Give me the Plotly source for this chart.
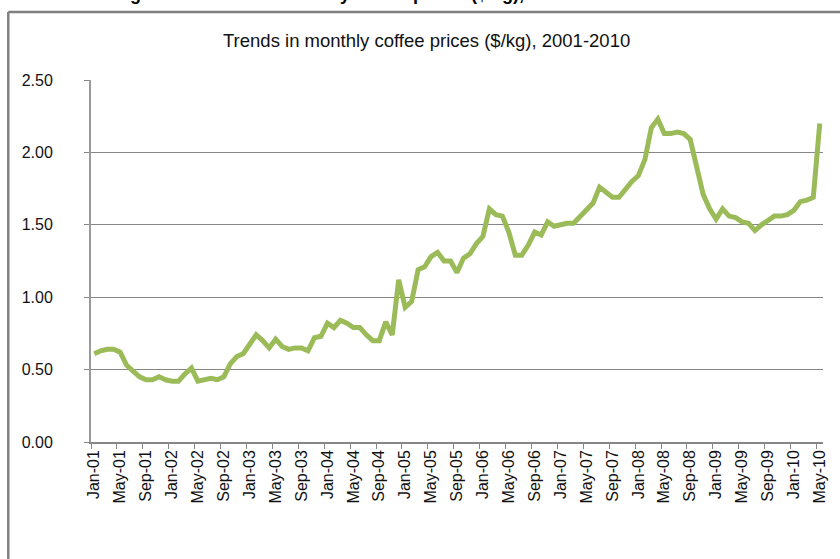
import plotly.graph_objects as go

# ---- data ----
month_names = ["Jan", "Feb", "Mar", "Apr", "May", "Jun",
               "Jul", "Aug", "Sep", "Oct", "Nov", "Dec"]
years = ["01", "02", "03", "04", "05", "06", "07", "08", "09", "10"]
months = [f"{m}-{y}" for y in years for m in month_names][:113]  # Jan-01 .. May-10

prices = [
    0.61, 0.63, 0.64, 0.64, 0.62, 0.53, 0.49, 0.45, 0.43, 0.43, 0.45, 0.43,   # 2001
    0.42, 0.42, 0.47, 0.51, 0.42, 0.43, 0.44, 0.43, 0.45, 0.54, 0.59, 0.61,   # 2002
    0.68, 0.74, 0.70, 0.65, 0.71, 0.66, 0.64, 0.65, 0.65, 0.63, 0.72, 0.73,   # 2003
    0.82, 0.79, 0.84, 0.82, 0.79, 0.79, 0.74, 0.70, 0.70, 0.83, 0.74, 1.12,   # 2004
    0.93, 0.97, 1.19, 1.21, 1.28, 1.31, 1.25, 1.25, 1.17, 1.27, 1.30, 1.37,   # 2005
    1.42, 1.61, 1.57, 1.56, 1.45, 1.29, 1.29, 1.36, 1.45, 1.43, 1.52, 1.49,   # 2006
    1.50, 1.51, 1.51, 1.56, 1.60, 1.65, 1.76, 1.72, 1.69, 1.69, 1.75, 1.80,   # 2007
    1.84, 1.95, 2.17, 2.23, 2.13, 2.13, 2.14, 2.13, 2.09, 1.90, 1.71, 1.61,   # 2008
    1.54, 1.61, 1.56, 1.55, 1.52, 1.51, 1.46, 1.50, 1.53, 1.56, 1.56, 1.57,   # 2009
    1.60, 1.66, 1.67, 1.69, 2.20,                                             # 2010
]
y_ticks = [0.0, 0.5, 1.0, 1.5, 2.0, 2.5]

chart_title = "Trends in monthly coffee prices ($/kg), 2001-2010"
top_caption = "Figure 2: Trends in monthly coffee prices ($/kg), 2001-2010"

# ---- layout geometry (pixels) ----
W, H = 840, 559
L, R, T, B = 91, 14.5, 80, 117
pw, ph = W - L - R, H - T - B


def px_x(p):
    return (p - L) / pw


def px_y(p):
    return (H - B - p) / ph


FONT = "Liberation Sans, Arial, sans-serif"
GRID = "#868686"

fig = go.Figure()
fig.add_trace(go.Scatter(
    x=months, y=prices, mode="lines",
    line=dict(color="#9BBB59", width=5),
    hoverinfo="x+y", showlegend=False,
))

fig.update_layout(
    width=W, height=H,
    margin=dict(l=L, r=R, t=T, b=B, pad=0),
    paper_bgcolor="white", plot_bgcolor="white",
    font=dict(family=FONT, color="#111111"),
    xaxis=dict(
        type="category", tickson="boundaries", dtick=4, tick0=0,
        tickangle=-90, ticks="outside", ticklen=5, tickcolor=GRID, tickwidth=1,
        showline=True, linecolor=GRID, linewidth=1.5,
        showgrid=False, zeroline=False,
        tickfont=dict(family=FONT, size=16, color="#111111"),
        range=[-0.5, len(months) - 0.5],
    ),
    yaxis=dict(
        range=[0, 2.5], tickvals=y_ticks, tickformat=".2f",
        ticks="outside", ticklen=5, tickcolor=GRID, tickwidth=1,
        showline=True, linecolor="#9a9a9a", linewidth=2,
        showgrid=True, gridcolor=GRID, gridwidth=1.3, zeroline=False,
        tickfont=dict(family=FONT, size=16, color="#111111"),
        ticklabelstandoff=28,
    ),
    shapes=[
        dict(type="line", xref="paper", yref="paper",
             x0=px_x(8), x1=px_x(845), y0=px_y(12), y1=px_y(12),
             line=dict(color="#808080", width=2.5)),
        dict(type="line", xref="paper", yref="paper",
             x0=px_x(8), x1=px_x(8), y0=px_y(12), y1=px_y(565),
             line=dict(color="#808080", width=2.5)),
    ],
    annotations=[
        dict(text=chart_title, xref="paper", yref="paper",
             x=px_x(428), y=px_y(40), xanchor="center", yanchor="middle",
             showarrow=False, font=dict(family=FONT, size=18.5, color="#111111")),
        dict(text="<b>" + top_caption + "</b>", xref="paper", yref="paper",
             x=px_x(112), y=px_y(-6), xanchor="left", yanchor="middle",
             showarrow=False, font=dict(family=FONT, size=18, color="#000000")),
    ],
)

fig.write_html("out.html", config={"displayModeBar": False},
               post_script="document.body.style.margin='0';")
